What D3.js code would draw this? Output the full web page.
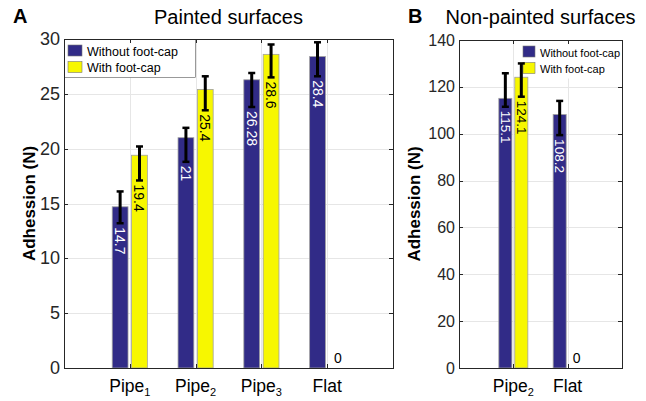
<!DOCTYPE html>
<head>
  <meta charset="utf-8">
  <script src="https://d3js.org/d3.v7.min.js"></script>
  <style>
    body { margin:0; background:#fff; }
    text { font-family: "Liberation Sans", Arial, sans-serif; }
  </style>
</head>
<body>
<script>
  // panel A - painted surfaces
  var aCatBase = ["Pipe", "Pipe", "Pipe", "Flat"]
  var aCatSub = ["1", "2", "3", ""]
  var aWithout = [14.7, 21, 26.28, 28.4]
  var aWith = [19.4, 25.4, 28.6, 0]
  var aWithoutLow = [13.2, 18.8, 23.8, 26.6]
  var aWithoutHigh = [16.1, 21.9, 26.9, 29.7]
  var aWithLow = [17.1, 23.5, 26.5, null]
  var aWithHigh = [20.2, 26.6, 29.5, null]
  var aTicks = [0, 5, 10, 15, 20, 25, 30]

  // panel B - non-painted surfaces
  var bCatBase = ["Pipe", "Flat"]
  var bCatSub = ["2", ""]
  var bWithout = [115.1, 108.2]
  var bWith = [124.1, 0]
  var bWithoutLow = [111.5, 99.4]
  var bWithoutHigh = [125.8, 114]
  var bWithLow = [115.8, null]
  var bWithHigh = [130, null]
  var bTicks = [0, 20, 40, 60, 80, 100, 120, 140]

  var seriesNames = ["Without foot-cap", "With foot-cap"]
  var colors = ["#312b87", "#f7f700"]
  var labelColors = ["#ffffff", "#000000"]

  var svg = d3.select("body").append("svg")
    .attr("width", 646)
    .attr("height", 401)

  function drawPanel(p) {
    var g = svg.append("g")
    var n = p.base.length
    var x = d3.scaleLinear().domain([0, n + 1]).range([p.left, p.right])
    var y = d3.scaleLinear().domain([0, d3.max(p.ticks)]).range([p.bottom, p.top])
    var bw = x(0.24) - x(0)
    var off = [-0.147, 0.147]

    // grid
    g.selectAll(".hgrid").data(p.ticks.slice(1, -1)).enter()
      .append("line")
      .attr("x1", p.left).attr("x2", p.right)
      .attr("y1", function(d) { return Math.round(y(d)) + 0.5 })
      .attr("y2", function(d) { return Math.round(y(d)) + 0.5 })
      .attr("stroke", "#e6e6e6")
    g.selectAll(".vgrid").data(d3.range(1, n + 1)).enter()
      .append("line")
      .attr("x1", function(d) { return Math.round(x(d)) + 0.5 })
      .attr("x2", function(d) { return Math.round(x(d)) + 0.5 })
      .attr("y1", p.top).attr("y2", p.bottom)
      .attr("stroke", "#e6e6e6")

    // legend: over the grid, under bars and error bars
    var lg = g.append("g").attr("transform", "translate(" + p.legX + "," + p.top + ")")
    lg.append("rect")
      .attr("x", 0.5).attr("y", 0.5).attr("width", p.legW).attr("height", 38)
      .attr("fill", "#fff").attr("stroke", p.legStroke).attr("stroke-width", 0.6)
    seriesNames.forEach(function(name, i) {
      lg.append("rect")
        .attr("x", p.swX).attr("y", 6 + i * 16.5).attr("width", p.swW).attr("height", 11)
        .attr("fill", colors[i]).attr("stroke", "#777").attr("stroke-width", 0.6)
      lg.append("text")
        .attr("x", p.swX + p.swW + 5).attr("y", 16.5 + i * 16.5)
        .attr("font-size", p.legSize).attr("fill", "#000")
        .text(name)
    })

    var series = [
      { vals: p.without, lo: p.withoutLow, hi: p.withoutHigh },
      { vals: p.with, lo: p.withLow, hi: p.withHigh }
    ]

    series.forEach(function(s, si) {
      var items = s.vals.map(function(v, i) {
        return { v: v, lo: s.lo[i], hi: s.hi[i], cx: x(i + 1 + off[si]) }
      })

      g.selectAll(".bar" + si).data(items.filter(function(d) { return d.v > 0 })).enter()
        .append("rect")
        .attr("x", function(d) { return d.cx - bw / 2 })
        .attr("width", bw)
        .attr("y", function(d) { return y(d.v) })
        .attr("height", function(d) { return y(0) - y(d.v) })
        .attr("fill", colors[si])
        .attr("stroke", "#a0a0a0")
        .attr("stroke-width", 0.8)

      // error bars
      var eb = items.filter(function(d) { return d.lo != null })
      g.selectAll(".err" + si).data(eb).enter()
        .append("line")
        .attr("x1", function(d) { return d.cx }).attr("x2", function(d) { return d.cx })
        .attr("y1", function(d) { return y(d.lo) }).attr("y2", function(d) { return y(d.hi) })
        .attr("stroke", "#000").attr("stroke-width", 3)
      ;["lo", "hi"].forEach(function(k) {
        g.selectAll(".cap" + si + k).data(eb).enter()
          .append("line")
          .attr("x1", function(d) { return d.cx - 3.5 }).attr("x2", function(d) { return d.cx + 3.5 })
          .attr("y1", function(d) { return y(d[k]) }).attr("y2", function(d) { return y(d[k]) })
          .attr("stroke", "#000").attr("stroke-width", 2.5)
      })

      // value labels
      items.forEach(function(d) {
        if (d.v > 0) {
          var ty = y(d.lo) + 4
          g.append("text")
            .attr("transform", "translate(" + d.cx + "," + ty + ") rotate(90)")
            .attr("dominant-baseline", "central")
            .attr("font-size", p.valSize)
            .attr("fill", labelColors[si])
            .text(String(d.v))
        } else {
          g.append("text")
            .attr("x", d.cx + 1).attr("y", y(0) - 5)
            .attr("text-anchor", "middle")
            .attr("font-size", 14)
            .attr("fill", "#000")
            .text("0")
        }
      })
    })

    // axes box and ticks
    g.append("rect")
      .attr("x", p.left + 0.5).attr("y", p.top + 0.5)
      .attr("width", p.right - p.left).attr("height", p.bottom - p.top)
      .attr("fill", "none").attr("stroke", "#262626")
    p.ticks.forEach(function(t) {
      var ty = Math.round(y(t)) + 0.5
      g.append("line").attr("x1", p.left).attr("x2", p.left + 4).attr("y1", ty).attr("y2", ty).attr("stroke", "#262626")
      g.append("line").attr("x1", p.right - 4).attr("x2", p.right).attr("y1", ty).attr("y2", ty).attr("stroke", "#262626")
      g.append("text")
        .attr("x", p.left - 4).attr("y", y(t))
        .attr("text-anchor", "end").attr("dominant-baseline", "central")
        .attr("font-size", p.tickSize).attr("fill", "#262626")
        .text(t)
    })
    d3.range(1, n + 1).forEach(function(c, i) {
      var tx = Math.round(x(c)) + 0.5
      g.append("line").attr("x1", tx).attr("x2", tx).attr("y1", p.top).attr("y2", p.top + 4).attr("stroke", "#262626")
      g.append("line").attr("x1", tx).attr("x2", tx).attr("y1", p.bottom - 4).attr("y2", p.bottom).attr("stroke", "#262626")
      var t = g.append("text")
        .attr("x", x(c)).attr("y", 392)
        .attr("text-anchor", "middle")
        .attr("font-size", 17.5).attr("fill", "#000")
      t.append("tspan").text(p.base[i])
      if (p.sub[i]) t.append("tspan").attr("font-size", 11).attr("dy", 4).text(p.sub[i])
    })

    // titles
    g.append("text")
      .attr("x", (p.left + p.right) / 2).attr("y", 24)
      .attr("text-anchor", "middle").attr("font-size", 20)
      .text(p.title)
    g.append("text")
      .attr("x", p.letterX).attr("y", 23)
      .attr("font-size", 20).attr("font-weight", "bold")
      .text(p.letter)
    g.append("text")
      .attr("transform", "translate(" + p.ylabX + "," + (p.top + p.bottom) / 2 + ") rotate(-90)")
      .attr("text-anchor", "middle").attr("dominant-baseline", "central")
      .attr("font-size", 17).attr("font-weight", "bold")
      .text("Adhession (N)")
  }

  drawPanel({
    base: aCatBase, sub: aCatSub, without: aWithout, with: aWith,
    withoutLow: aWithoutLow, withoutHigh: aWithoutHigh, withLow: aWithLow, withHigh: aWithHigh,
    ticks: aTicks, left: 64, right: 393, top: 39, bottom: 368,
    valSize: 14, tickSize: 18, title: "Painted surfaces", letter: "A", letterX: 13, ylabX: 29,
    legX: 64, legW: 131, legStroke: "#555", swX: 4, swW: 14, legSize: 12.5
  })

  drawPanel({
    base: bCatBase, sub: bCatSub, without: bWithout, with: bWith,
    withoutLow: bWithoutLow, withoutHigh: bWithoutHigh, withLow: bWithLow, withHigh: bWithHigh,
    ticks: bTicks, left: 459, right: 622, top: 40, bottom: 368,
    valSize: 13.5, tickSize: 16, title: "Non-painted surfaces", letter: "B", letterX: 408, ylabX: 414,
    legX: 523, legW: 99, legStroke: "none", swX: 0, swW: 12, legSize: 11
  })
</script>
</body>
